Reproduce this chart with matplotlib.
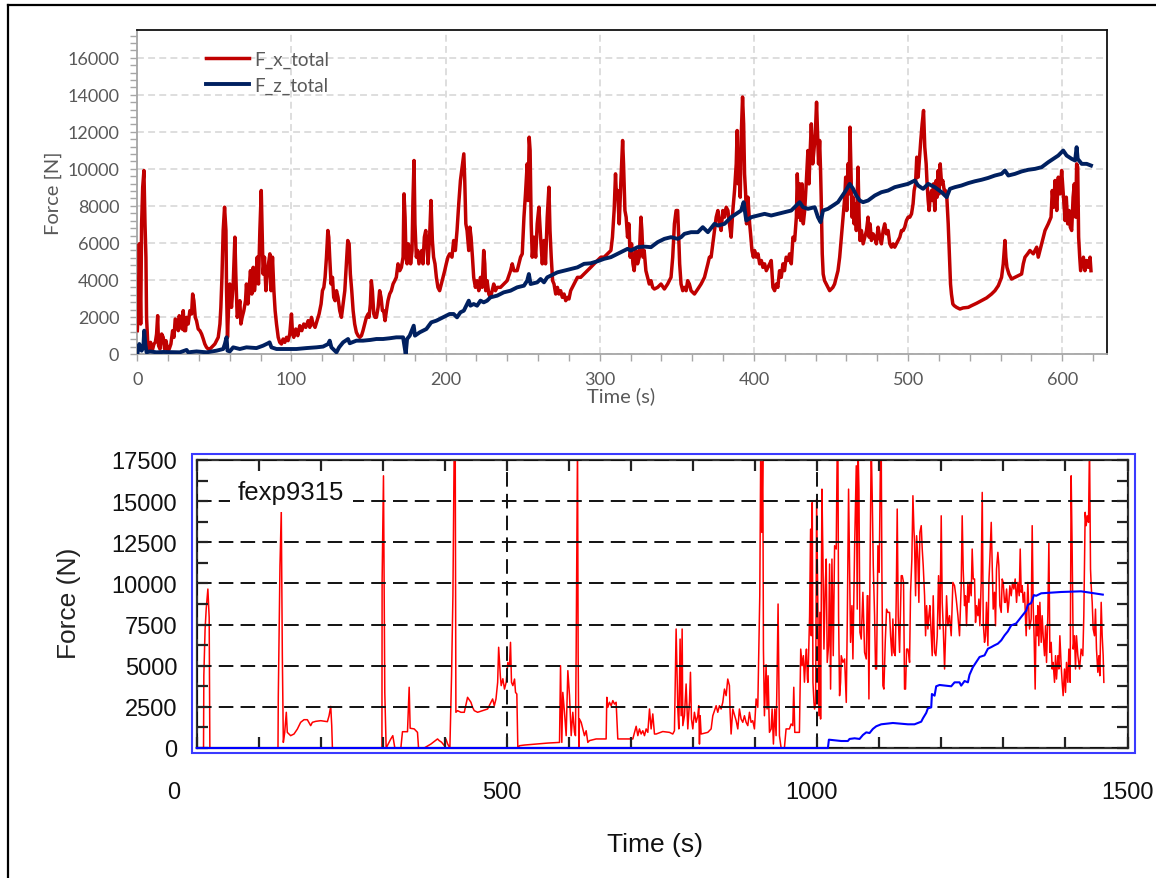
import matplotlib
matplotlib.use("Agg")
import matplotlib.pyplot as plt
from matplotlib.ticker import MultipleLocator
from matplotlib.patches import Rectangle
from matplotlib.lines import Line2D

# ---- top chart: F_x_total (time s, force N)
fx_t = [0, 0.6, 1.3, 2.2, 2.8, 3.5, 4.3, 5.0, 5.6, 6.0, 6.7, 7.6, 8.6, 9.7, 10.8, 11.7, 12.5, 13.2, 13.8, 14.7,
        15.8, 16.8, 17.7, 18.6, 19.7, 20.7, 21.8, 22.9, 23.8, 24.6, 25.5, 26.6, 27.2, 28.1, 29.0, 29.8, 30.5, 31.3,
        32.0, 33.0, 34.1, 35.2, 35.9, 36.7, 37.6, 38.4, 39.5, 40.6, 41.7, 42.8, 43.8, 44.9, 46.0, 47.1, 48.2, 49.2,
        50.3, 51.4, 52.5, 53.6, 54.2, 54.9, 55.7, 56.6, 57.5, 57.9, 58.5, 59.2, 60.0, 61.1, 62.2, 63.3, 63.9, 64.8,
        65.7, 66.5, 67.2, 68.0, 69.1, 70.2, 70.8, 71.7, 72.6, 73.4, 74.3, 75.2, 76.0, 76.9, 77.8, 78.6, 79.5, 80.4,
        81.0, 81.6, 82.5, 83.4, 84.2, 85.1, 86.0, 86.8, 87.7, 88.6, 89.4, 90.3, 91.4, 92.4, 93.5, 94.6, 95.7, 96.8,
        97.8, 98.9, 100.0, 100.7, 101.5, 102.8, 104.1, 105.4, 106.7, 108.0, 109.3, 110.8, 111.9, 113.0, 114.0, 115.3,
        116.6, 117.9, 119.2, 120.1, 121.0, 121.8, 122.7, 123.6, 124.2, 124.8, 125.7, 126.6, 127.4, 128.3, 129.2,
        130.2, 131.3, 132.4, 133.5, 134.6, 135.6, 136.5, 137.4, 138.2, 139.1, 140.0, 141.0, 142.1, 143.2, 144.3,
        145.4, 146.4, 147.5, 148.6, 149.7, 150.3, 151.2, 151.8, 152.5, 153.4, 154.2, 155.1, 156.2, 157.2, 158.1,
        159.0, 159.8, 160.7, 161.6, 162.6, 163.7, 164.8, 165.9, 167.0, 168.0, 169.1, 170.2, 171.3, 172.4, 173.0,
        173.7, 174.3, 175.0, 175.8, 176.7, 177.3, 178.2, 178.8, 179.5, 180.1, 181.0, 181.9, 182.7, 183.6, 184.5,
        185.3, 186.2, 187.1, 187.9, 188.6, 189.6, 190.5, 191.4, 192.2, 193.1, 194.0, 195.0, 196.1, 197.2, 198.3,
        199.4, 200.4, 201.5, 202.6,
        204.1, 205.2, 206.3, 207.4, 208.5, 209.6, 210.7, 211.8, 212.4, 213.1, 213.9, 215.0, 215.7, 216.5, 217.4,
        218.2, 219.3, 220.4, 221.5, 222.6, 223.7, 224.7, 225.4, 226.0, 226.9, 228.0, 229.1, 230.2, 231.2, 232.3,
        233.4, 235.6, 237.7, 239.9, 242.1, 243.2, 244.3, 246.4, 247.5, 248.6, 249.7, 250.8, 251.8, 252.9, 253.5,
        254.2, 254.8, 255.5, 256.2, 257.3, 258.4, 259.4, 260.5, 261.6, 262.7, 263.8, 264.8, 265.9, 267.0, 267.7,
        268.5, 269.4, 270.3, 271.4, 272.5, 273.5, 274.6, 275.7, 276.8, 277.9, 279.0, 280.0, 281.1, 283.3, 285.5,
        287.6, 289.8, 292.0, 294.1, 296.3, 298.5, 300.7, 302.8, 305.0, 307.2, 308.2, 309.3, 310.2, 310.8, 311.5,
        312.6, 313.7, 314.8, 315.4, 316.3, 317.1, 318.0, 318.9, 319.7, 320.6, 321.5, 322.3, 323.4, 324.5, 325.6,
        326.7, 327.3, 328.0, 328.8, 329.9, 331.0, 332.1, 333.2, 334.3, 335.4, 337.5, 339.7, 341.9, 344.0, 346.2,
        347.3, 348.4, 349.5, 350.5, 351.2, 351.8, 352.7, 353.8, 354.9, 356.0, 357.0, 358.1, 359.2, 361.4, 363.6,
        365.7, 367.9, 370.1, 371.1, 372.2, 373.3, 374.4, 375.5, 376.6, 377.7, 378.7, 379.8, 380.9, 382.0, 383.1,
        384.1, 385.2, 386.3, 387.4, 388.5, 389.1, 389.8, 390.4, 391.1, 391.7, 392.6, 393.3, 393.9, 394.6, 395.2,
        396.1, 397.2, 397.8, 398.7, 399.6, 400.4, 401.5, 402.6, 403.7, 404.8, 405.8, 406.9, 408.0, 409.1, 410.2,
        411.2, 412.3, 413.4, 414.5, 415.5, 416.6, 417.7, 418.8, 419.8, 420.9, 422.1, 423.1, 424.2, 425.3, 426.4,
        427.5, 428.1, 429.0, 429.6, 430.3, 431.2, 432.0, 432.9, 434.0, 435.0, 435.7, 436.3, 437.2, 438.1, 438.9,
        439.8, 440.6, 441.3, 441.9, 442.6, 443.2, 443.6, 444.3, 444.9, 445.8, 446.9, 448.0, 449.1, 450.2, 451.2,
        452.3, 453.4, 454.5, 455.6, 456.7, 457.8, 458.9, 459.5, 460.2, 461.0, 461.7, 462.3, 463.0, 463.6, 464.3,
        465.0, 465.8, 466.4, 467.5, 468.2, 468.8, 469.7, 470.8, 471.9, 473.0, 474.0, 474.7, 475.3, 476.2, 477.3,
        478.4, 479.4, 480.5, 481.6, 482.7, 483.8, 484.8, 485.9, 487.0, 488.1, 489.2, 490.3, 491.3, 492.4, 493.5,
        494.6, 495.7, 496.8, 497.8, 498.9, 500.0, 501.1, 502.2, 503.2, 503.9, 504.8, 505.6, 506.5, 507.4, 508.2,
        509.1, 510.0, 510.8, 511.7, 512.3, 513.0, 513.6, 514.3, 515.2, 515.8, 516.5, 517.3, 518.2, 518.8, 519.5,
        520.1, 520.8, 521.7, 522.5, 523.4, 524.2, 525.1, 526.0, 526.8, 527.5, 528.1, 529.0, 529.9, 531.4, 533.6,
        535.7, 539.0, 541.1, 544.4, 547.6, 550.9, 554.1, 556.3, 558.5, 560.6, 561.7, 562.8, 563.4, 564.1, 565.4,
        567.1, 569.3, 571.4, 573.6, 574.7, 575.8, 577.5, 579.0, 581.2, 583.4, 584.4, 586.6, 588.8, 590.9, 592.7,
        593.5, 594.4, 595.3, 596.4, 597.4, 598.5, 599.6, 600.2, 600.9, 601.8, 602.6, 603.5, 604.4, 605.2, 606.1,
        607.0, 607.8, 608.7, 609.3, 610.0, 610.6, 611.3, 611.9, 612.8, 613.7, 614.7, 615.8, 616.9, 618.0, 618.6]
fx_v = [1260, 2340, 5950, 1620, 7030, 9010, 9910, 7030, 5230, 1980, 720, 270, 630, 180, 540, 630, 1080, 2070, 450, 270,
        1080, 900, 270, 720, 180, 270, 540, 1260, 900, 1890, 1800, 1260, 2070, 1530, 1350, 2340, 1260, 1260,
        1980, 1620, 2340, 2160, 3240, 2880, 1980, 1800, 1350, 1260, 1080, 810, 540, 360, 270, 270, 360, 450,
        540, 720, 900, 1620, 2520, 4140, 6670, 7930, 6670, 3420, 900, 2520, 3780, 2520, 3780, 6310, 4320, 1980,
        2340, 2880, 1620, 1980, 2340, 2880, 3780, 2700, 3600, 4500, 3240, 4680, 3420, 4140, 5230, 3780, 6670, 8830,
        6670, 4320, 5230, 3420, 4140, 4870, 5410, 3420, 5230, 3420, 2340, 1620, 900, 630, 540, 810, 630, 900,
        720, 1080, 2160, 1080, 900, 1350, 990, 1530, 1260, 1620, 1440, 1800, 1440, 1980, 1620, 1440,
        1800, 2160, 2700, 3420, 3600, 4140, 5230, 6670, 6310, 5230, 3780, 4140, 3060, 2880, 3420,
        3060, 2340, 1980, 2700, 3420, 4870, 6130, 5950, 4320, 3420, 2340, 1620, 1170, 990, 900,
        990, 1260, 1620, 1980, 2160, 1980, 2700, 3960, 3420, 2160, 1980, 1980, 2520, 3420, 3060,
        2340, 2340, 1800, 2340, 2880, 3240, 3420, 3780, 3960, 4140, 4870, 4500, 4680, 5230, 8650,
        7390, 5230, 4870, 5950, 5590, 4870, 5590, 8290, 10450, 7030, 5230, 5590, 4870, 5230, 5590,
        4870, 6310, 6670, 5950, 4870, 6310, 8290, 6130, 5230, 4870, 4140, 3600, 3420, 3780, 4140,
        4500, 4870, 5230, 5410,
        5230, 6130, 5590, 6670, 8110, 9370, 10090, 10810, 9370, 7030, 6670, 5590, 6850, 6310, 5230,
        4140, 3600, 3960, 3420, 4140, 3600, 5590, 4870, 3420, 3960, 3240, 3060, 3420, 3780, 3420,
        3600, 3600, 3780, 3960, 4500, 4870, 4500, 4500, 4870, 5230, 5410, 7390, 8650, 10270, 8290,
        11710, 10990, 7030, 5230, 6310, 5230, 7030, 7930, 6310, 4870, 6130, 4870, 7390, 9010, 6670,
        5230, 3960, 3780, 3240, 3600, 3240, 3420, 3060, 3240, 2880, 3060, 2970, 3420, 3780, 4140,
        4140, 4320, 4500, 4680, 4870, 5050, 5230, 5230, 5410, 5590, 6310, 7750, 9730, 8470, 8830,
        7030, 9370, 11530, 10270, 7750, 7390, 6310, 7030, 5230, 5950, 4870, 4500, 5590, 4870, 5230,
        7390, 6670, 5230, 5590, 4500, 4140, 3780, 3960, 3600, 3510, 3600, 3780, 3510, 3780, 4140,
        5230, 7030, 7750, 7750, 6310, 4870, 3780, 3420, 3600, 3420, 3960, 3780, 3420, 3240, 3510,
        3780, 4140, 4870, 5230, 5230, 5950, 6670, 7390, 7750, 7030, 6670, 7750, 7390, 7930, 7750,
        7030, 6310, 7750, 8830, 10270, 12070, 9190, 9730, 8470, 11710, 13880, 12430, 9730, 8650, 7030,
        8470, 7030, 6490, 5590, 5230, 5590, 5230, 5410, 4870, 5050, 4680, 4870, 4500, 4680, 4870,
        5050, 3600, 3420, 3780, 3600, 4500, 4140, 4870, 4500, 5230, 5050, 5410, 4870, 6310, 6130,
        7390, 9730, 7390, 9190, 7210, 9190, 7030, 7750, 9370, 10990, 9190, 10630, 12430, 10270, 10990,
        11890, 13600, 11890, 10270, 11530, 9910, 8470, 5410, 4320, 3960, 3780, 3600, 3420, 3510, 3600,
        3780, 4140, 4500, 5230, 6310, 7390, 8470, 9550, 7750, 10270, 8650, 12250, 9730, 7390, 8470,
        7030, 8110, 6670, 10090, 7390, 6130, 6670, 5950, 6310, 6670, 7390, 6310, 7030, 6130, 6490,
        6310, 5950, 6850, 6310, 5950, 6670, 7030, 6490, 6670, 5950, 5770, 5950, 5770, 5950, 6130,
        6310, 6670, 6670, 6850, 7210, 7390, 7390, 7570, 8110, 8830, 9190, 10630, 9550, 10630, 11530,
        12430, 13150, 11170, 10270, 9190, 8290, 7750, 8470, 8830, 8290, 9190, 7750, 9370, 8470, 9910,
        8650, 10270, 9190, 9370, 8830, 8830, 8470, 7030, 5230, 3780, 3240, 2700, 2610, 2520, 2430,
        2490, 2520, 2610, 2740, 2880, 3030, 3240, 3420, 3690, 4140, 4870, 6130, 5230, 4680, 4320,
        4050, 4140, 4230, 4320, 4870, 5230, 5410, 5590, 5410, 5770, 5230, 5950, 6670, 7030, 7390,
        8830, 7930, 9370, 7750, 9550, 8650, 9910, 9190, 8290, 7210, 8470, 7030, 7750, 6850, 6670,
        8470, 9190, 7390, 10270, 10090, 6310, 5230, 4500, 4870, 5230, 4500, 5050, 4680, 5230, 4500]

# ---- top chart: F_z_total
fz_t = [0, 1.3, 2.8, 3.9, 4.5, 5.2, 6.0, 8.2, 12.5, 16.8, 27.6, 32.0, 33.0, 38.4, 44.9, 51.4, 55.7, 56.8, 57.9,
        58.5, 60.0, 62.2, 66.5, 70.8, 77.3, 81.6, 84.8, 85.8, 87.0, 90.3, 96.8, 103.2, 109.7, 116.2, 120.5, 123.8,
        124.8, 125.9, 129.2, 130.9, 133.5, 136.7, 137.8, 142.1, 146.4, 151.2, 155.1, 159.4, 163.7, 168.0, 172.4,
        174.1, 175.0, 176.7, 179.3, 180.1, 183.2, 187.5, 190.7, 194.0, 198.3, 202.6,
        205.2, 207.4, 209.6, 211.8, 213.9, 215.0, 216.1, 218.2, 220.4, 222.6, 224.7, 226.9, 229.1, 233.4, 237.7,
        242.1, 246.4, 250.8, 252.9, 254.0, 255.1, 259.4, 261.6, 263.8, 265.9, 268.1, 272.5, 276.8, 281.1, 285.5,
        289.8, 294.1, 298.5, 302.8, 307.2, 311.5, 315.8, 318.0, 320.1, 324.5, 328.8, 333.2, 337.5, 341.9, 346.2,
        350.5, 352.7, 354.9, 359.2, 363.6, 366.8, 370.1, 374.4, 376.6, 380.9, 385.2, 388.5, 391.7, 393.3, 395.0,
        398.3, 402.6, 406.9,
        411.2, 415.5, 419.8, 424.2, 427.5, 429.6, 431.8, 435.0, 439.4, 441.5, 443.2, 444.8, 448.0, 451.2, 454.5,
        456.7, 458.9, 462.1, 464.3, 466.4, 468.6, 470.8, 474.0, 478.4, 482.7, 487.0, 491.3, 495.7, 500.0, 504.3,
        506.5, 509.7, 513.0, 517.3, 521.7, 525.0, 527.1, 530.3, 534.6, 539.0, 543.3, 547.6, 551.9, 556.3, 560.6,
        562.8, 565.0, 569.3, 573.6, 577.9, 582.3, 586.6, 590.9, 594.2, 597.4, 600.6, 602.8, 606.1, 608.3, 609.3,
        610.0, 612.6, 615.8, 618.6]
fz_v = [0, 540, 180, 360, 1260, 540, 90, 140, 90, 110, 90, 220, 90, 140, 90, 180, 270, 540, 900,
        180, 140, 360, 270, 360, 320, 450, 580, 630, 360, 270, 270, 270, 320, 360, 400, 540,
        720, 360, 90, 360, 630, 810, 580, 720, 720, 760, 810, 810, 850, 900, 900,
        0, 810, 990, 1530, 990, 1170, 1350, 1710, 1800, 1980, 2160,
        2160, 1980, 2250, 2340, 2700, 2880, 2610, 2700, 2610, 2880, 2790, 2880, 3060, 3150, 3330,
        3420, 3600, 3690, 3960, 4320, 3780, 3870, 4050, 3870, 4140, 4230, 4410, 4500, 4590, 4680,
        4870, 4900, 5010, 5140, 5230, 5410, 5590, 5680, 5590, 5770, 5800, 5770, 6040, 6220, 6310,
        6220, 6310, 6490, 6580, 6580, 6850, 6580, 7030, 6940, 7030, 7390, 7570, 7750, 8200, 7210,
        7390, 7480, 7570,
        7480, 7570, 7660, 7750, 8020, 8200, 7930, 7840, 7930, 7390, 7120, 7750, 7840, 8020, 8200,
        8470, 8740, 9190, 8920, 8560, 8290, 8200, 8290, 8560, 8740, 8830, 9010, 9100, 9190, 9370,
        9100, 8920, 9190, 9010, 8740, 8470, 8920, 9010, 9100, 9230, 9330, 9410, 9510, 9640, 9730,
        9910, 9640, 9730, 9860, 9950, 10000, 10090, 10360, 10540, 10720, 10990, 10720, 10540, 10450, 11170,
        10540, 10270, 10270, 10180]

# ---- bottom chart: fexp9315, red series (time s, force N)
r_t = [0, 11.0, 11.5, 13.5, 15.3, 18.0, 20.1, 21.2, 131.0, 131.5, 134.2, 136.3, 138.0, 139.6, 141.7, 144.4, 146.0,
       151.4, 156.8, 162.2, 167.5, 172.9, 178.3, 183.7, 186.4, 191.8, 199.8, 210.6, 213.3, 216.0, 217.6, 218.7,
       298.5, 298.8, 301.0, 303.1, 305.3, 312.8, 316.0, 319.3, 329.0, 331.6, 339.7, 342.4, 344.0, 350.5, 355.8,
       357.5, 366.6, 377.4, 388.1, 390.8, 394.6, 398.9, 401.6, 404.3, 408.0, 410.7, 412.9, 415.0, 416.6, 417.7,
       420.4, 425.8, 431.2, 436.5, 441.9, 444.6, 447.3, 452.7, 460.8, 468.8, 474.2, 476.9, 479.6, 482.3, 485.0,
       486.6, 489.3, 490.7, 493.4, 496.0, 498.7, 501.4, 504.1, 505.7, 507.3, 509.5, 512.2, 513.8, 515.9, 517.5,
       520.2, 528.3, 565.9, 584.7, 586.3, 588.4, 590.0, 592.7, 595.4, 598.1, 600.8, 603.5, 606.1, 608.8, 610.4,
       611.5, 612.6, 613.7, 614.7, 615.8, 616.9, 619.6, 622.3, 624.9, 627.6, 630.3, 633.0, 643.7, 659.8, 660.9,
       662.5, 665.2, 667.9, 670.6, 673.3, 675.9, 678.6, 702.8, 708.2, 710.9, 713.5, 716.2, 718.9, 721.6, 724.3,
       727.0, 729.7, 732.3, 735.0, 737.7, 740.4, 751.1, 761.9, 767.2, 769.9, 772.6, 775.3, 776.9, 779.0, 780.7,
       782.3, 783.4, 786.0, 788.7, 791.4, 794.1, 795.7, 797.3, 799.5, 802.1, 804.8, 807.5, 809.1, 810.2, 811.3,
       812.9, 823.6, 829.0, 831.7, 837.1, 839.7, 842.4, 845.1, 847.8, 850.5, 853.2, 855.8, 858.5, 859.6, 861.2,
       863.9, 869.3, 872.0, 874.6, 877.3, 880.0, 882.7, 885.4, 888.1, 890.8, 893.4, 896.1, 898.8, 901.5, 904.2,
       905.8, 907.4, 909.0, 910.6, 912.2, 913.3, 914.9, 917.6, 919.2, 920.8, 923.0, 925.7, 927.3, 929.4, 931.6,
       933.7, 935.3, 936.9, 939.1, 941.8, 947.1, 949.8, 955.2, 957.9, 960.6, 962.2, 963.8, 971.3, 973.4, 975.6,
       977.7, 979.4, 981.0, 982.6, 984.2,
       985.0, 987.7, 989.3, 990.4, 992.0, 993.1, 994.7, 995.7, 997.4, 999.0, 1001.1, 1002.7, 1004.3, 1005.4,
       1007.6, 1009.2, 1010.8, 1012.9, 1014.5, 1016.1, 1018.3, 1019.9, 1021.5, 1023.7, 1025.8, 1028.0, 1030.6,
       1032.3, 1033.3, 1034.4, 1036.0, 1037.6, 1038.7, 1041.4, 1044.1, 1046.8, 1048.4, 1050.5, 1052.1, 1053.7,
       1055.9, 1057.5, 1060.2, 1062.9, 1064.5, 1065.6, 1067.2, 1068.8, 1070.9, 1073.6, 1076.3, 1079.0, 1080.6,
       1081.7, 1083.3, 1084.9, 1087.0, 1088.6, 1090.3, 1092.4, 1094.0, 1095.6, 1097.8, 1099.9, 1102.1, 1103.1,
       1104.2, 1105.8, 1107.4, 1109.6, 1111.7, 1113.9, 1116.6, 1118.2, 1120.3, 1121.9, 1123.5, 1125.7, 1127.3,
       1128.9, 1130.5, 1132.7, 1135.4, 1137.0, 1139.1, 1140.7, 1142.3, 1144.0, 1146.1, 1147.7, 1148.8, 1150.4,
       1152.5, 1154.2, 1155.8, 1156.8, 1158.5, 1160.1, 1162.2, 1163.8, 1165.4, 1167.6, 1169.2, 1170.8, 1173.0,
       1174.6, 1176.2, 1178.3, 1179.9, 1181.5, 1183.7, 1185.3, 1186.9, 1189.1, 1191.2, 1193.4, 1195.5, 1197.7,
       1199.8, 1201.4, 1203.0, 1205.2, 1206.8, 1208.4, 1210.5, 1213.2, 1215.9, 1218.6, 1221.3, 1224.0, 1226.7,
       1229.3, 1232.0, 1233.6, 1235.2, 1237.4, 1239.0, 1240.6, 1242.8, 1244.4, 1246.0, 1248.1, 1249.7, 1251.4,
       1253.5, 1255.1, 1256.7, 1258.9, 1260.5, 1262.1, 1264.2, 1265.9, 1267.5, 1269.6, 1271.2, 1272.8, 1275.0,
       1276.6, 1278.2, 1280.4, 1282.0, 1283.6, 1285.7, 1287.3, 1288.9, 1291.1, 1292.7, 1294.3, 1296.5, 1298.1,
       1299.7, 1301.8, 1303.4, 1305.1, 1307.2, 1308.8, 1310.4, 1312.6, 1314.7, 1316.9, 1319.0, 1321.2, 1323.3,
       1325.5, 1327.1, 1328.7, 1330.3, 1331.9, 1334.1, 1336.7, 1339.4, 1342.1, 1344.8, 1346.4, 1348.0, 1349.6,
       1351.2, 1352.8, 1354.5, 1355.5, 1357.1, 1358.8, 1360.9, 1362.5, 1364.1, 1366.3, 1367.9, 1369.5, 1371.6,
       1373.3, 1374.9, 1377.0, 1378.6, 1380.2, 1382.4, 1384.0, 1385.6, 1387.8, 1389.4, 1391.0, 1393.1, 1394.7,
       1396.3, 1398.5, 1400.1, 1401.7, 1403.9, 1405.5, 1407.6, 1409.2, 1410.8, 1412.5, 1414.6, 1416.2, 1417.8,
       1420.0, 1422.7, 1425.3, 1428.0, 1429.6, 1431.8, 1433.4, 1435.0, 1437.2, 1438.8, 1440.4, 1441.5, 1443.1,
       1444.7, 1446.8, 1448.4, 1450.0, 1452.2, 1453.8, 1455.4, 1457.6, 1459.2, 1460.8, 1461.9]
r_v = [0, 0, 4400, 7200, 8440, 9660, 7940, 0, 0, 3140, 11080, 14420, 5610, 340, 900, 2170, 950,
       750, 850, 1150, 1560, 1720, 1720, 1360, 1560, 1620, 1660, 1600, 1960, 2530, 1360, 0,
       0, 10170, 16540, 3380, 0, 550, 750, 0, 0, 990, 990, 3690, 1200, 1160, 950,
       0, 0, 240, 550, 450, 350, 150, 550, 250, 0, 4390, 9250, 18500, 18500, 2170,
       2270, 2170, 2170, 3080, 2780, 2470, 2270, 2170, 2270, 2370, 2780, 2980, 2570, 2980, 3990,
       6120, 4390, 3790, 4210, 3580, 3990, 5200, 5000, 6420, 3990, 3790, 4190, 3380, 3280, 0,
       140, 180, 300, 340, 5000, 340, 3380, 2170, 750, 4700, 3180, 750, 2170, 950, 750,
       5810, 11890, 18500, 5810, 0, 1760, 1560, 1150, 750, 1050, 340, 450, 550, 550, 3080,
       2470, 2780, 2570, 2880, 2670, 2780, 550, 550, 1320, 750, 1160, 850, 1050, 750, 1160,
       950, 2370, 1160, 2070, 850, 850, 1000, 950, 850, 1050, 7230, 2370, 1160, 6620, 1960,
       7230, 1360, 1960, 3890, 1160, 2780, 4600, 1760, 1160, 2170, 1560, 1960, 2570, 240, 1960,
       850, 950, 1160, 1960, 2570, 2170, 2570, 2370, 2780, 3580, 3180, 4190, 3790, 2170, 850,
       2370, 1660, 1160, 2370, 1760, 1560, 1960, 1560, 1360, 2170, 1560, 1660, 1160, 2980, 2470,
       6010, 9250, 18500, 13100, 18500, 6010, 1960, 5060, 2370, 4390, 950, 1160, 2370, 240, 2370,
       750, 4390, 8750, 750, 0, 0, 1160, 1160, 1460, 1360, 3690, 950, 950, 6010, 5000,
       5610, 4000, 5200, 6010, 4190,
       3990, 8040, 13300, 6820, 14920, 3990, 2770, 2370, 2770, 15130, 8240, 1960, 8240, 1760,
       15730, 11480, 6010, 9860, 11480, 5200, 6220, 11180, 3580, 11480, 5610, 12290, 12090,
       18500, 18500, 8040, 3180, 3990, 5610, 5200, 5410, 2770, 7630, 15730, 11080, 6420,
       8650, 5410, 12090, 17150, 8440, 18500, 15730, 7030, 6620, 9460, 5810, 5410, 9250,
       9250, 2980, 10060, 18500, 15330, 11080, 8040, 4800, 4800, 12290, 10670, 18500, 18500,
       10670, 3790, 3580, 6420, 8440, 8240, 8240, 6820, 5610, 7840, 5810, 5610, 9050,
       14520, 8040, 5810, 10470, 10470, 10060, 3580, 3580, 6010, 6010, 5610, 5200, 9460,
       11480, 15330, 13300, 12490, 9250, 12900, 11480, 8850, 13100, 13510, 12090, 11080, 9250,
       6820, 8650, 7230, 8040, 8650, 6820, 5610, 9250, 5810, 5610, 6820, 10470, 7230,
       14110, 8850, 7430, 4800, 6820, 9250, 7430, 8040, 6820, 10060, 9860, 9050, 8040,
       6820, 9860, 14110, 10870, 8650, 9250, 7430, 10060, 8850, 10060, 9250, 12090, 10270,
       10270, 7630, 8650, 8040, 9050, 7430, 10060, 15530, 7630, 6420, 6820, 8850, 6220,
       10060, 11480, 13710, 11080, 8440, 9460, 7430, 10870, 11890, 11080, 8650, 8240, 10270,
       10060, 8850, 8850, 9660, 8240, 8850, 9860, 9250, 10060, 9660, 10270, 8850, 10060,
       9250, 12090, 9460, 9860, 8850, 9460, 6820, 10060, 7230, 7840, 13510, 8650, 6620,
       3580, 8040, 6820, 8650, 6220, 8850, 6420, 8040, 6820, 5610, 7430, 5200, 8040,
       12490, 5810, 6420, 4800, 5200, 3990, 5610, 4190, 5610, 4800, 6820, 5000, 3990,
       3180, 4800, 3380, 5200, 3990, 6010, 3990, 16540, 12090, 6010, 6820, 4800, 6820,
       5610, 4800, 6010, 5610, 8040, 14320, 13510, 14110, 13710, 18500, 10870, 9860, 8850,
       7230, 6820, 8440, 6010, 4600, 5610, 4390, 8850, 6820, 5610, 3990]

# ---- bottom chart: blue series
b_t = [0, 1017.2, 1018.8, 1038.7, 1049.4, 1052.1, 1060.2, 1068.2, 1073.6, 1079.0, 1084.3, 1089.7, 1095.1, 1103.1,
       1121.9, 1146.1, 1156.8, 1167.6, 1170.3, 1175.6, 1178.3, 1183.7, 1184.8, 1189.1, 1191.7, 1197.1, 1215.9,
       1221.3, 1229.3, 1232.0, 1237.4, 1242.8, 1245.4, 1250.8, 1256.2, 1261.6, 1269.6, 1275.0, 1280.4, 1285.7,
       1291.1, 1296.5, 1301.8, 1307.2, 1312.6, 1320.6, 1328.7, 1336.7, 1339.4, 1344.8, 1349.1, 1352.8, 1360.9,
       1393.1, 1425.3, 1460.2]
b_v = [0, 0, 506, 425, 425, 550, 590, 550, 790, 950, 910, 1160, 1320, 1440,
       1520, 1440, 1440, 1600, 1800, 2130, 2410, 2470, 3280, 3180, 3750, 3830, 3750,
       3990, 3990, 3790, 4070, 3990, 4450, 4910, 5220, 5530, 5630, 6030, 6130, 6240,
       6340, 6540, 6840, 7090, 7450, 7570, 7960, 8340, 8690, 8810, 9290, 9250, 9400,
       9480, 9520, 9320]

top_xticks = [0, 100, 200, 300, 400, 500, 600]
top_yticks = [0, 2000, 4000, 6000, 8000, 10000, 12000, 14000, 16000]
bot_xticks = [0, 500, 1000, 1500]
bot_yticks = [0, 2500, 5000, 7500, 10000, 12500, 15000, 17500]

W, H = 1156, 879
fig = plt.figure(figsize=(W / 100, H / 100), dpi=100)

# ================= top chart =================
gray = "#595959"
ax1 = fig.add_axes([137.3 / W, 1 - 355 / H, 969.7 / W, 324 / H])
ax1.plot(fx_t, fx_v, color="#c00000", lw=2.5, label="F_x_total", zorder=3)
ax1.plot(fz_t, fz_v, color="#002060", lw=2.8, label="F_z_total", zorder=4)
ax1.set_xlim(0, 629)
ax1.set_ylim(0, 17500)
ax1.set_xticks(top_xticks)
ax1.set_yticks(top_yticks)
ax1.xaxis.set_minor_locator(MultipleLocator(20))
ax1.yaxis.set_minor_locator(MultipleLocator(400))
ax1.tick_params(which="both", direction="out", length=5, width=1, color="#a6a6a6")
ax1.tick_params(axis="both", labelsize=13, labelcolor=gray)
ax1.tick_params(axis="x", pad=7)
ax1.tick_params(axis="y", pad=8)
for lab in ax1.get_xticklabels() + ax1.get_yticklabels():
    lab.set_family("Lato")
ax1.set_axisbelow(True)
ax1.grid(True, which="major", color="#d4d4d4", lw=1.1, linestyle=(0, (4.5, 2.8)))
for side in ["left", "bottom"]:
    ax1.spines[side].set_color("#a6a6a6")
    ax1.spines[side].set_linewidth(1.3)
for side in ["top", "right"]:
    ax1.spines[side].set_color("#111111")
    ax1.spines[side].set_linewidth(1.3)
ax1.set_ylabel("Force [N]", family="Lato", fontsize=14.5, color=gray, va="center")
ax1.yaxis.set_label_coords(-0.087, 0.5)
ax1.set_xlabel("Time (s)", family="Lato", fontsize=14.5, color=gray, va="center")
ax1.xaxis.set_label_coords(0.499, -0.127)
ax1.legend(loc="upper left", bbox_to_anchor=(0.0708, 0.937), frameon=False,
           borderaxespad=0, borderpad=0, handlelength=2.3, handletextpad=0.3,
           labelspacing=0.5, prop=dict(family="Lato", size=13.5), labelcolor=gray)

# ================= bottom chart =================
ax2 = fig.add_axes([196.7 / W, 1 - 749 / H, 930.8 / W, 288 / H])
ax2.plot(r_t, r_v, color="#ff0000", lw=1.1, zorder=2)
ax2.plot(b_t, b_v, color="#0000ff", lw=1.5, zorder=5, clip_on=False)
ax2.set_xlim(0, 1500)
ax2.set_ylim(0, 17500)
ax2.set_xticks(bot_xticks)
ax2.set_yticks(bot_yticks)
ax2.xaxis.set_minor_locator(MultipleLocator(100))
ax2.yaxis.set_minor_locator(MultipleLocator(1250))
ax2.tick_params(which="both", direction="in", length=8, width=1.6, color="#222222",
                top=True, right=True)
ax2.tick_params(axis="x", labelbottom=False)
ax2.tick_params(axis="y", labelsize=17, pad=14, labelcolor="#111111")
for lab in ax2.get_yticklabels():
    lab.set_family("Liberation Sans")
ax2.set_axisbelow(False)
ax2.grid(True, which="major", color="#111111", lw=1.4, linestyle=(0, (7.5, 3.7)))
for side in ax2.spines:
    ax2.spines[side].set_color("#333333")
    ax2.spines[side].set_linewidth(1.6)

# x tick labels sit a little off their ticks in the source picture
for tk, lab, dx in zip(bot_xticks, ["0", "500", "1000", "1500"], [-23, -5, -6, 0]):
    ax2.annotate(lab, xy=(tk, 0), xycoords=("data", "axes fraction"), xytext=(dx, -44),
                 textcoords="offset pixels", ha="center", va="center", fontsize=17,
                 family="Liberation Sans", color="#111111", annotation_clip=False)

ax2.set_ylabel("Force (N)", family="Liberation Sans", fontsize=19, color="#222222", va="center")
ax2.yaxis.set_label_coords(-0.137, 0.507)
ax2.set_xlabel("Time (s)", family="Liberation Sans", fontsize=19, color="#111111", va="center")
ax2.xaxis.set_label_coords(0.492, -0.333)
ax2.text(0.0444, 0.889, "fexp9315", transform=ax2.transAxes, ha="left", va="center",
         fontsize=18.5, family="Liberation Sans", color="#111111", zorder=6,
         bbox=dict(facecolor="white", edgecolor="none", pad=6))

# blue selection frame round the lower chart
fig.add_artist(Rectangle((192 / W, 1 - 754 / H), 943 / W, 299 / H, transform=fig.transFigure,
                         fill=False, edgecolor="#3a3aff", lw=1.5))

# black border of the whole picture (left and top only visible)
fig.add_artist(Line2D([7.5 / W, 7.5 / W], [0, 1 - 6 / H], transform=fig.transFigure,
                      color="black", lw=1.6))
fig.add_artist(Line2D([7.5 / W, 1], [1 - 6 / H, 1 - 6 / H], transform=fig.transFigure,
                      color="black", lw=1.6))

fig.savefig("out.png", dpi=100)
